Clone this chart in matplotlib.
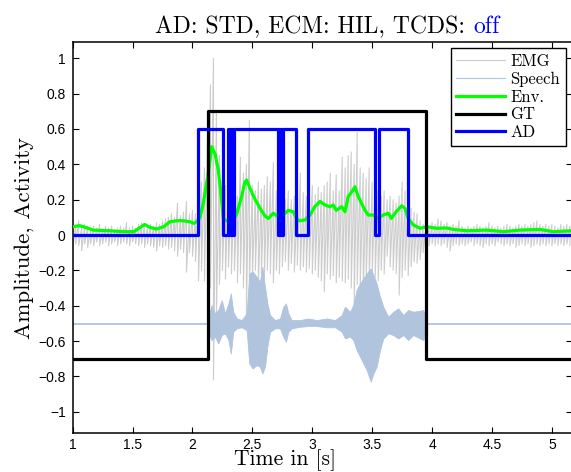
import numpy as np
import matplotlib
matplotlib.use("Agg")
import matplotlib.pyplot as plt
from matplotlib.lines import Line2D
from matplotlib.ticker import FuncFormatter, MultipleLocator

# EMG spread per sample (upper / lower extent), 25 ms grid from 1.0 s to 5.15 s
emg_t = np.round(np.arange(1.0, 5.1501, 0.025), 3)
emg_hi = [
    0.06, 0.05, 0.08, 0.04, 0.06, 0.05, 0.03, 0.05, 0.04, 0.06,
    0.03, 0.05, 0.04, 0.05, 0.03, 0.04, 0.05, 0.04, 0.07, 0.04,
    0.05, 0.04, 0.06, 0.07, 0.06, 0.05, 0.06, 0.05, 0.07, 0.06,
    0.08, 0.09, 0.10, 0.12, 0.10, 0.18, 0.11, 0.13, 0.19, 0.12,
    0.14, 0.12,
    0.22, 0.30, 0.38, 0.55, 0.85, 1.00, 0.70, 0.45, 0.35, 0.28,
    0.32, 0.25, 0.30, 0.22, 0.44, 0.35, 0.40, 0.65, 0.28, 0.25,
    0.30, 0.26, 0.28, 0.33, 0.30, 0.41, 0.25, 0.22, 0.31, 0.20,
    0.25, 0.20, 0.22, 0.18, 0.35, 0.24, 0.22, 0.26, 0.28, 0.23,
    0.27, 0.24, 0.28, 0.30, 0.35, 0.25, 0.34, 0.25, 0.44, 0.38,
    0.45, 0.47, 0.40, 0.58, 0.38, 0.35, 0.32, 0.38, 0.30, 0.28,
    0.25, 0.22, 0.25, 0.20, 0.22, 0.20, 0.18, 0.22, 0.30, 0.25,
    0.20, 0.15, 0.13, 0.12, 0.08, 0.06, 0.05,
    0.05, 0.07, 0.06, 0.09, 0.08, 0.06, 0.07, 0.05, 0.06, 0.05,
    0.08, 0.05, 0.04, 0.05, 0.04, 0.05, 0.06, 0.05, 0.04, 0.05,
    0.07, 0.05, 0.04, 0.05, 0.04, 0.05, 0.06, 0.05, 0.04, 0.05,
    0.06, 0.05, 0.06, 0.05, 0.06, 0.07, 0.08, 0.06, 0.05, 0.06,
    0.05, 0.06, 0.05, 0.04, 0.06, 0.05, 0.06, 0.05,
]
emg_lo = [
    -0.07, -0.05, -0.06, -0.09, -0.05, -0.07, -0.05, -0.06, -0.04, -0.06,
    -0.05, -0.04, -0.06, -0.05, -0.04, -0.06, -0.05, -0.04, -0.05, -0.06,
    -0.04, -0.05, -0.06, -0.05, -0.07, -0.05, -0.06, -0.07, -0.09, -0.06,
    -0.07, -0.06, -0.08, -0.07, -0.09, -0.12, -0.08, -0.10, -0.21, -0.10,
    -0.12, -0.15,
    -0.26, -0.20, -0.26, -0.22, -0.30, -0.82, -0.45, -0.28, -0.20, -0.25,
    -0.18, -0.22, -0.20, -0.27, -0.22, -0.30, -0.46, -0.27, -0.24, -0.20,
    -0.29, -0.22, -0.25, -0.20, -0.22, -0.27, -0.20, -0.22, -0.18, -0.15,
    -0.20, -0.16, -0.21, -0.17, -0.20, -0.18, -0.21, -0.19, -0.22, -0.20,
    -0.24, -0.26, -0.32, -0.22, -0.25, -0.23, -0.27, -0.24, -0.26, -0.27,
    -0.25, -0.30, -0.39, -0.28, -0.30, -0.35, -0.27, -0.25, -0.22, -0.24,
    -0.26, -0.20, -0.22, -0.12, -0.18, -0.20, -0.22, -0.34, -0.24, -0.20,
    -0.23, -0.18, -0.15, -0.16, -0.14, -0.10, -0.08,
    -0.06, -0.05, -0.06, -0.05, -0.06, -0.05, -0.07, -0.09, -0.06, -0.05,
    -0.06, -0.05, -0.06, -0.05, -0.04, -0.06, -0.05, -0.06, -0.07, -0.05,
    -0.06, -0.05, -0.06, -0.04, -0.05, -0.06, -0.05, -0.06, -0.05, -0.07,
    -0.06, -0.05, -0.06, -0.05, -0.07, -0.06, -0.05, -0.06, -0.05, -0.06,
    -0.05, -0.06, -0.05, -0.06, -0.05, -0.06, -0.05, -0.06,
]

# speech waveform extent, offset to -0.5
sp_t = [1.000, 2.125, 2.132, 2.160, 2.188, 2.215, 2.244, 2.271, 2.300, 2.320,
        2.340, 2.370, 2.410, 2.452, 2.474, 2.502, 2.535, 2.563, 2.583, 2.605,
        2.625, 2.647, 2.689, 2.730, 2.758, 2.780, 2.800, 2.828, 2.897, 2.967,
        3.037, 3.120, 3.190, 3.245, 3.273, 3.315, 3.342, 3.370, 3.398, 3.426,
        3.454, 3.488, 3.510, 3.537, 3.565, 3.593, 3.634, 3.676, 3.718, 3.760,
        3.800, 3.843, 3.900, 3.926, 3.945, 3.955, 5.170]
sp_hi = [-0.497, -0.497, -0.462, -0.396, -0.443, -0.424, -0.368, -0.443, -0.387, -0.330,
         -0.434, -0.472, -0.481, -0.443, -0.217, -0.207, -0.236, -0.264, -0.179, -0.292,
         -0.387, -0.453, -0.481, -0.472, -0.406, -0.387, -0.443, -0.481, -0.481, -0.472,
         -0.481, -0.472, -0.481, -0.453, -0.406, -0.434, -0.396, -0.311, -0.274, -0.245,
         -0.217, -0.189, -0.226, -0.274, -0.349, -0.406, -0.462, -0.434, -0.415, -0.453,
         -0.424, -0.434, -0.428, -0.424, -0.462, -0.497, -0.497]
sp_lo = [-0.503, -0.503, -0.556, -0.594, -0.575, -0.613, -0.566, -0.556, -0.594, -0.670,
         -0.547, -0.528, -0.522, -0.538, -0.726, -0.755, -0.736, -0.745, -0.783, -0.745,
         -0.632, -0.547, -0.528, -0.528, -0.575, -0.604, -0.547, -0.528, -0.519, -0.515,
         -0.515, -0.522, -0.522, -0.547, -0.585, -0.575, -0.594, -0.651, -0.688, -0.726,
         -0.764, -0.830, -0.783, -0.745, -0.651, -0.585, -0.556, -0.566, -0.585, -0.566,
         -0.594, -0.566, -0.585, -0.594, -0.556, -0.503, -0.503]

# smoothed EMG envelope
env_t = [1.00, 1.06, 1.12, 1.17, 1.24, 1.31, 1.38, 1.45, 1.51, 1.56,
         1.60, 1.645, 1.70, 1.76, 1.81, 1.87, 1.92, 1.98, 2.01, 2.035,
         2.063, 2.09, 2.132, 2.16, 2.188, 2.215, 2.235, 2.257, 2.271, 2.313,
         2.341, 2.369, 2.41, 2.438, 2.452, 2.48, 2.52, 2.564, 2.605, 2.633,
         2.675, 2.716, 2.758, 2.80, 2.84, 2.883, 2.94, 2.98, 3.02, 3.064,
         3.106, 3.148, 3.175, 3.20, 3.245, 3.273, 3.30, 3.33, 3.356, 3.384,
         3.41, 3.44, 3.467, 3.51, 3.55, 3.59, 3.634, 3.66, 3.70, 3.746,
         3.774, 3.80, 3.843, 3.90, 3.955, 4.04, 4.12, 4.177, 4.29, 4.456,
         4.594, 4.734, 4.90, 5.01, 5.17]
env_v = [0.047, 0.053, 0.040, 0.028, 0.026, 0.024, 0.021, 0.019, 0.019, 0.041,
         0.060, 0.043, 0.034, 0.047, 0.075, 0.081, 0.081, 0.075, 0.066, 0.075,
         0.100, 0.180, 0.350, 0.500, 0.460, 0.370, 0.250, 0.100, 0.085, 0.075,
         0.085, 0.120, 0.217, 0.300, 0.311, 0.264, 0.205, 0.151, 0.108, 0.094,
         0.123, 0.104, 0.113, 0.140, 0.132, 0.080, 0.085, 0.113, 0.160, 0.190,
         0.170, 0.160, 0.170, 0.140, 0.160, 0.132, 0.217, 0.245, 0.273, 0.217,
         0.180, 0.140, 0.113, 0.113, 0.094, 0.113, 0.123, 0.094, 0.132, 0.165,
         0.151, 0.094, 0.057, 0.038, 0.047, 0.038, 0.040, 0.032, 0.024, 0.028,
         0.019, 0.028, 0.032, 0.019, 0.024]

# ground truth and detector activity (step signals)
gt_t = [1.0, 2.131, 3.948, 5.17]
gt_v = [-0.7, 0.7, -0.7, -0.7]
ad_t = [1.0, 2.049, 2.257, 2.300, 2.308, 2.316, 2.324, 2.332, 2.340, 2.347,
        2.716, 2.724, 2.731, 2.739, 2.746, 2.758, 2.864, 2.962, 3.523, 3.560,
        3.796, 5.17]
ad_v = [0, 0.6, 0, 0.6, 0, 0.6, 0, 0.6, 0, 0.6,
        0, 0.6, 0, 0.6, 0, 0.6, 0, 0.6, 0, 0.6,
        0, 0]

c_emg = "#cdcdcd"
c_sp = "#b0c4de"
c_env = "#00ff00"
c_ad = "#0000ff"
serif = ["cmr10", "DejaVu Serif"]

fig = plt.figure(figsize=(5.71, 4.72), dpi=100)
ax = fig.add_axes([0.1273, 0.0826, 0.8745, 0.8284])

# EMG trace: each sample swings from its upper to its lower extent
emg_x = np.repeat(emg_t, 2)
emg_y = np.column_stack([emg_hi, emg_lo]).ravel()
ax.plot(emg_x, emg_y, color=c_emg, lw=0.8, zorder=1)
ax.fill_between(sp_t, sp_lo, sp_hi, color=c_sp, lw=0.6, edgecolor=c_sp, zorder=2)
ax.plot(env_t, env_v, color=c_env, lw=2.3, zorder=3)
ax.plot(gt_t, gt_v, drawstyle="steps-post", color="k", lw=2.3, zorder=4)
ax.plot(ad_t, ad_v, drawstyle="steps-post", color=c_ad, lw=2.3, zorder=5)

ax.set_xlim(1, 5.168)
ax.set_ylim(-1.12, 1.092)
ax.xaxis.set_major_locator(MultipleLocator(0.5))
ax.yaxis.set_major_locator(MultipleLocator(0.2))
fmt = FuncFormatter(lambda v, p: ("%g" % round(v, 2)).replace("-", "\u2212"))
ax.xaxis.set_major_formatter(fmt)
ax.yaxis.set_major_formatter(fmt)
ax.tick_params(direction="in", top=True, right=True, length=4.5, width=0.8,
               labelsize=10, pad=5)
ax.tick_params(axis="x", pad=3.5)
for lab in ax.get_xticklabels() + ax.get_yticklabels():
    lab.set_family("Liberation Sans")
for s in ax.spines.values():
    s.set_linewidth(1.1)

# x label sits right on the bottom edge of the figure
ax.set_xlabel("Time in [s]", family=serif, fontsize=15.5, va="bottom")
ax.xaxis.set_label_coords(0.5, 1.0 / 472, transform=fig.transFigure)
ax.set_ylabel("Amplitude, Activity", family=serif, fontsize=16.5, labelpad=3)

handles = [
    Line2D([], [], color=c_emg, lw=0.8),
    Line2D([], [], color=c_sp, lw=0.8),
    Line2D([], [], color=c_env, lw=2.3),
    Line2D([], [], color="k", lw=2.3),
    Line2D([], [], color=c_ad, lw=2.3),
]
leg = ax.legend(handles, ["EMG", "Speech", "Env.", "GT", "AD"],
                loc="upper right", prop={"family": serif, "size": 12},
                fancybox=False, framealpha=1, edgecolor="k",
                handlelength=2.9, labelspacing=0.15, borderpad=0.35,
                handletextpad=0.35, borderaxespad=0.35)
leg.get_frame().set_linewidth(1.0)

# title with the TCDS state highlighted
t1 = fig.text(155 / 571, 1 - 33 / 472, "AD: STD, ECM: HIL, TCDS:",
              family=serif, fontsize=17, va="baseline", ha="left")
fig.canvas.draw()
bb = t1.get_window_extent()
fig.text((bb.x1 + 8) / fig.bbox.width, 1 - 33 / 472, "off", color=c_ad,
         family=serif, fontsize=17, va="baseline", ha="left")

fig.savefig("out.png", dpi=100)
